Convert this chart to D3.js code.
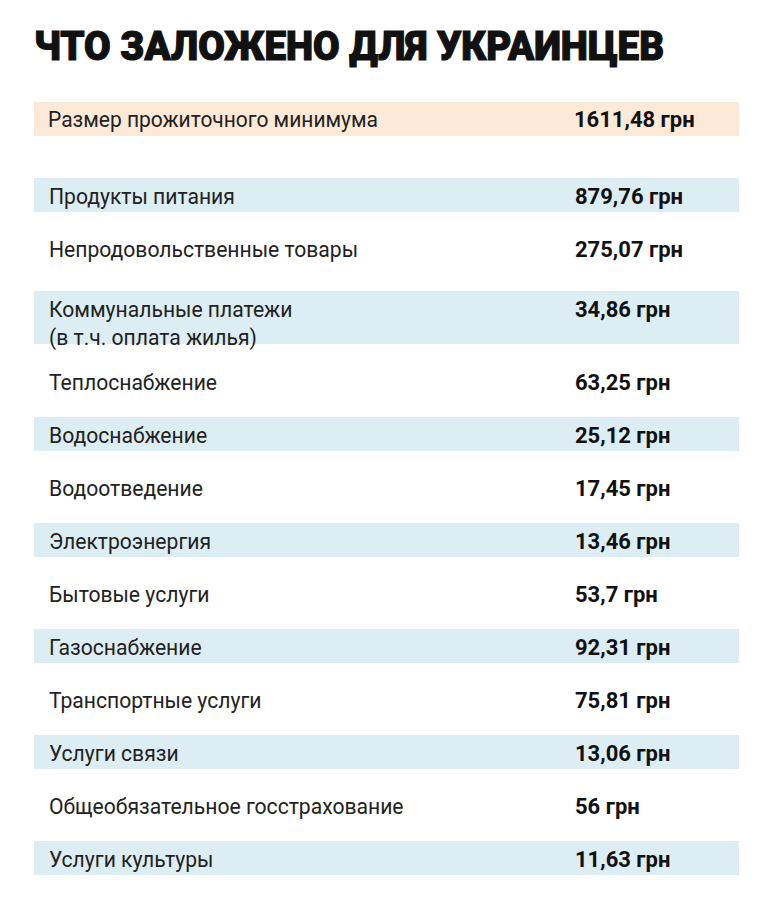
<!DOCTYPE html>
<html><head><meta charset="utf-8">
<script src="https://cdn.jsdelivr.net/npm/d3@7"></script>
<style>body{margin:0;background:#fff}</style>
</head><body><div class="table"></div>
<script>
var W = 773, H = 916;
var font = "'Liberation Sans Narrow', 'Roboto', sans-serif";

var title = "ЧТО ЗАЛОЖЕНО ДЛЯ УКРАИНЦЕВ";
var totalLabel = "Размер прожиточного минимума";
var totalValue = "1611,48 грн";
var labels = [
  ["Продукты питания"],
  ["Непродовольственные товары"],
  ["Коммунальные платежи", "(в т.ч. оплата жилья)"],
  ["Теплоснабжение"],
  ["Водоснабжение"],
  ["Водоотведение"],
  ["Электроэнергия"],
  ["Бытовые услуги"],
  ["Газоснабжение"],
  ["Транспортные услуги"],
  ["Услуги связи"],
  ["Общеобязательное госстрахование"],
  ["Услуги культуры"]
];
var values = ["879,76 грн","275,07 грн","34,86 грн","63,25 грн","25,12 грн","17,45 грн",
  "13,46 грн","53,7 грн","92,31 грн","75,81 грн","13,06 грн","56 грн","11,63 грн"];

var svg = d3.select(".table").append("svg").attr("width", W).attr("height", H);

// row tops: 53px step, two-line rows take extra room
var tops = [], t = 178;
labels.forEach(function(d, i) {
  tops.push(t);
  var next = labels[i + 1];
  t += 53 + (d.length > 1 ? 20 : 0) + (next && next.length > 1 ? 7 : 0);
});

svg.append("text").attr("x", 34).attr("y", 60).text(title)
  .attr("font-family", font).attr("font-weight", 900).attr("font-size", 40)
  .attr("fill", "#111").attr("stroke", "#111").attr("stroke-width", 1.2)
  .attr("textLength", 630).attr("lengthAdjust", "spacingAndGlyphs");

// header band
svg.append("rect").attr("x", 34).attr("y", 102).attr("width", 705).attr("height", 34).attr("fill", "#fde9d7");
svg.append("text").attr("x", 48).attr("y", 127).text(totalLabel)
  .attr("font-family", font).attr("font-size", 22).attr("fill", "#222")
  .attr("textLength", 330).attr("lengthAdjust", "spacingAndGlyphs");
svg.append("text").attr("x", 574).attr("y", 127).text(totalValue)
  .attr("font-family", font).attr("font-weight", "bold").attr("font-size", 22).attr("fill", "#111");

var rows = svg.selectAll("g.row").data(labels).enter().append("g").attr("class", "row")
  .attr("transform", function(d, i) { return "translate(0," + tops[i] + ")"; });

rows.append("rect")
  .attr("x", 34).attr("y", 0).attr("width", 705)
  .attr("height", function(d) { return d.length > 1 ? 53 : 34; })
  .attr("fill", function(d, i) { return i % 2 === 0 ? "#dcedf3" : "none"; });

rows.each(function(d, i) {
  var g = d3.select(this);
  d.forEach(function(line, j) {
    g.append("text").attr("x", 49).attr("y", 26 + j * 28).text(line)
      .attr("font-family", font).attr("font-size", 22).attr("fill", "#222")
      .attr("transform", "translate(49,0) scale(0.96,1) translate(-49,0)");
  });
  g.append("text").attr("x", 575).attr("y", 26).text(values[i])
    .attr("font-family", font).attr("font-weight", "bold").attr("font-size", 22).attr("fill", "#111");
});
</script></body></html>
